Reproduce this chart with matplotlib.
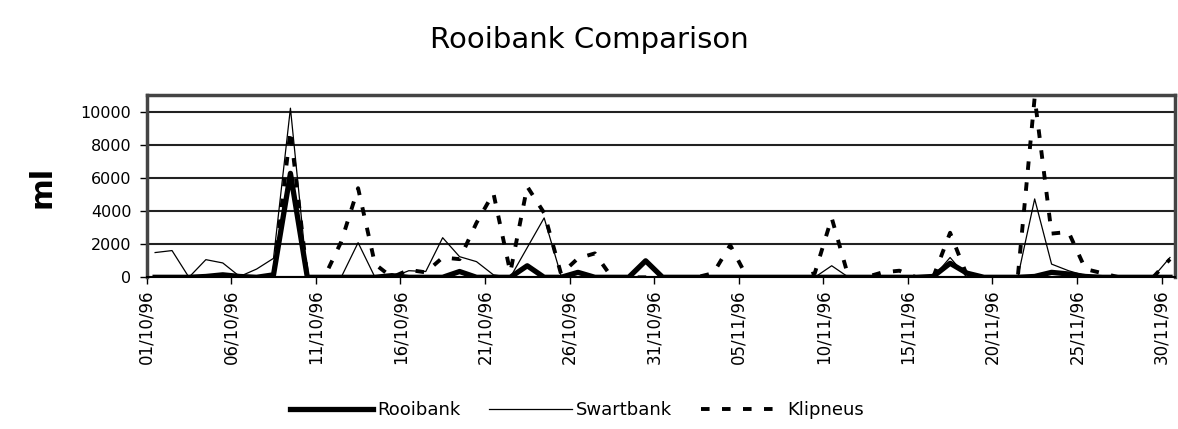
import matplotlib
matplotlib.use("Agg")
import matplotlib.pyplot as plt
import numpy as np
import pandas as pd

# ---- data ----
dates = pd.date_range("1996-10-01", "1996-11-30", freq="D")
tick_labels = ["01/10/96", "06/10/96", "11/10/96", "16/10/96", "21/10/96", "26/10/96",
               "31/10/96", "05/11/96", "10/11/96", "15/11/96", "20/11/96", "25/11/96", "30/11/96"]

rooibank = [0, 0, 0, 50, 150, 50, 0, 150, 6300, 0,
            0, 0, 0, 0, 100, 0, 0, 0, 350, 0,
            0, 0, 700, 0, 0, 300, 0, 0, 0, 1000,
            0, 0, 0, 0, 0, 0, 0, 0, 0, 0,
            0, 0, 0, 0, 0, 0, 50, 850, 250, 0,
            0, 0, 50, 300, 200, 50, 0, 0, 0, 0,
            0]

swartbank = [1500, 1620, 0, 1070, 870, 50, 500, 1150, 10250, 0,
             0, 0, 2100, 0, 0, 400, 350, 2400, 1250, 950,
             150, 0, 1800, 3600, 100, 0, 0, 0, 0, 0,
             0, 0, 0, 0, 0, 0, 0, 0, 0, 0,
             700, 0, 0, 100, 0, 0, 0, 1200, 0, 0,
             0, 0, 4750, 800, 400, 100, 0, 0, 0, 0,
             1200]

klipneus = [0, 0, 0, 0, 0, 0, 0, 0, 8900, 0,
            0, 2150, 5400, 800, 0, 450, 300, 1200, 1100, 3300,
            5100, 300, 5500, 3900, 200, 1150, 1450, 0, 0, 0,
            0, 0, 0, 250, 1950, 0, 0, 0, 0, 250,
            3600, 0, 0, 300, 400, 0, 0, 2700, 100, 0,
            0, 0, 10900, 2650, 2750, 500, 250, 0, 0, 0,
            1100]

plt.rcParams['font.family'] = ['DejaVu Sans']

fig = plt.figure(figsize=(11.78, 4.29), dpi=100)
ax = fig.add_axes([0.1245, 0.3536, 0.873, 0.425])

x = np.arange(len(dates)) + 0.5
ax.plot(x, swartbank, color='black', lw=0.9, label='Swartbank', zorder=3)
ax.plot(x, klipneus, color='black', lw=2.8, linestyle=(0, (2.2, 3.2)), label='Klipneus', zorder=4)
ax.plot(x, rooibank, color='black', lw=3.8, label='Rooibank', zorder=5)

ax.set_xlim(0, 60.8)
ax.set_ylim(0, 11050)
ax.set_yticks(np.arange(0, 10001, 2000))
ax.set_yticklabels([f"{v:d}" for v in range(0, 10001, 2000)], fontsize=11.5)
ax.set_xticks(np.arange(0, 61, 5))
ax.set_xticklabels(tick_labels, rotation=90, fontsize=12)
ax.tick_params(axis='both', direction='out', length=5, width=1, color='black')
ax.tick_params(axis='x', pad=4)
ax.tick_params(axis='y', pad=6)

ax.grid(axis='y', color='#222222', lw=1.5)
ax.set_axisbelow(True)
for s in ['top', 'left', 'right']:
    ax.spines[s].set_color('#444444')
    ax.spines[s].set_linewidth(2.5)
ax.spines['bottom'].set_color('black')
ax.spines['bottom'].set_linewidth(1.5)

fig.text(0.5, 0.907, "Rooibank Comparison", ha='center', va='center', fontsize=21)
fig.text(0.0357, 0.564, "ml", rotation=90, ha='center', va='center', fontsize=22, fontweight='bold')

h, l = ax.get_legend_handles_labels()
order = [2, 0, 1]
fig.legend([h[i] for i in order], [l[i] for i in order], loc='center',
           bbox_to_anchor=(0.49, 0.044), ncol=3, frameon=False, fontsize=13,
           handlelength=4.6, handletextpad=0.2, columnspacing=1.6)

fig.savefig("out.png", dpi=100)
